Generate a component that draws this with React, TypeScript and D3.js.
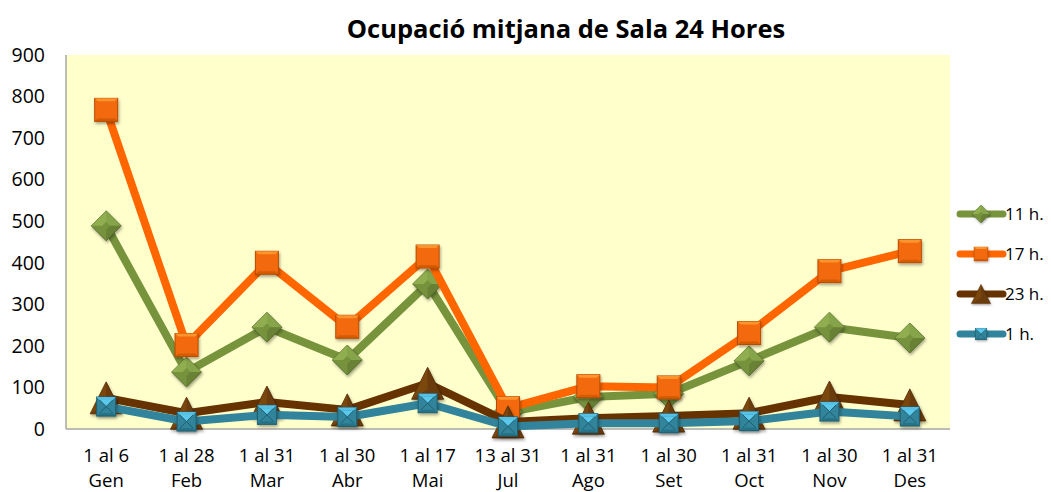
import React from 'react';
import * as d3 from 'd3';

const categories = ['1 al 6|Gen', '1 al 28|Feb', '1 al 31|Mar', '1 al 30|Abr', '1 al 17|Mai', '13 al 31|Jul', '1 al 31|Ago', '1 al 30|Set', '1 al 31|Oct', '1 al 30|Nov', '1 al 31|Des'];
const yTicks = [0, 100, 200, 300, 400, 500, 600, 700, 800, 900];

const values11h = [489, 137, 245, 166, 349, 40, 77, 85, 164, 245, 219];
const values17h = [768, 202, 400, 246, 415, 50, 103, 100, 231, 380, 428];
const values23h = [75, 38, 65, 46, 110, 17, 26, 31, 38, 77, 58];
const values1h = [54, 18, 34, 29, 62, 6, 14, 14, 19, 42, 30];

type Series = { name: string; values: number[]; line: string; fill: string; light: string; dark: string; marker: 'diamond' | 'square' | 'triangle' | 'xsquare' };

const series: Series[] = [
  { name: '11 h.', values: values11h, line: '#77933C', fill: '#76923C', light: '#9BBB59', dark: '#4F6228', marker: 'diamond' },
  { name: '17 h.', values: values17h, line: '#FF6600', fill: '#F26B0C', light: '#FF9933', dark: '#B84C00', marker: 'square' },
  { name: '23 h.', values: values23h, line: '#663300', fill: '#6B3A0B', light: '#8A5217', dark: '#4A2600', marker: 'triangle' },
  { name: '1 h.', values: values1h, line: '#31849B', fill: '#31849B', light: '#5CC8EC', dark: '#1F5F72', marker: 'xsquare' },
];

const W = 1051;
const H = 492;
const plot = { left: 66, right: 950, top: 55, bottom: 429 };
const font = '"Open Sans", "Noto Sans", sans-serif';

function Marker({ s, x, y }: { s: Series; x: number; y: number }) {
  if (s.marker === 'diamond') {
    const r = 15;
    const c = 4;
    return (
      <g transform={`translate(${x},${y})`} filter="url(#shadow)">
        <path d={`M0,${-r}L${r},0L0,${r}L${-r},0Z`} fill={s.fill} stroke={s.dark} strokeWidth={0.8} />
        <path d={`M0,${-r}L${-r},0L${-c},0L0,${-c}Z`} fill={s.light} opacity={0.7} />
        <path d={`M0,${-r}L${r},0L${c},0L0,${-c}Z`} fill={s.light} opacity={0.45} />
        <path d={`M0,${r}L${r},0L${c},0L0,${c}Z`} fill={s.dark} opacity={0.35} />
      </g>
    );
  }
  if (s.marker === 'triangle') {
    const r = 16;
    return (
      <g transform={`translate(${x},${y})`} filter="url(#shadow)">
        <path d={`M0,${-r}L${r},${r}L${-r},${r}Z`} fill={s.fill} stroke={s.dark} strokeWidth={0.8} />
        <path d={`M0,${-r}L${-r},${r}L0,${r * 0.4}Z`} fill={s.light} opacity={0.5} />
      </g>
    );
  }
  const h = s.marker === 'square' ? 11.5 : 9.5;
  const i = 3;
  return (
    <g transform={`translate(${x},${y})`} filter="url(#shadow)">
      <rect x={-h} y={-h} width={2 * h} height={2 * h} fill={s.fill} stroke={s.dark} strokeWidth={1} />
      <path d={`M${-h},${-h}L${h},${-h}L${h - i},${-h + i}L${-h + i},${-h + i}Z`} fill={s.light} opacity={0.9} />
      <path d={`M${-h},${h}L${h},${h}L${h - i},${h - i}L${-h + i},${h - i}Z`} fill={s.dark} opacity={0.5} />
      {s.marker === 'xsquare' && (
        <g>
          <path d={`M${-h + i},${-h + i}L0,0L${h - i},${-h + i}Z`} fill={s.light} />
          <path d={`M${-h + i},${-h + i}L${h - i},${h - i}M${h - i},${-h + i}L${-h + i},${h - i}`} stroke={s.dark} strokeWidth={1} />
        </g>
      )}
    </g>
  );
}

export default function App() {
  const x = d3.scalePoint<string>().domain(categories).range([plot.left, plot.right]).padding(0.5);
  const y = d3.scaleLinear().domain([0, 900]).range([plot.bottom, plot.top]);
  const line = d3.line<number>().x((_, i) => x(categories[i]) as number).y(d => y(d));

  const legendY = [214, 254, 294, 334];

  return (
    <svg width={W} height={H} style={{ position: 'absolute', left: 0, top: 0, background: '#fff' }} fontFamily={font}>
      <defs>
        <filter id="shadow" x="-50%" y="-50%" width="200%" height="200%">
          <feDropShadow dx="1" dy="2" stdDeviation="1.5" floodColor="#000" floodOpacity="0.35" />
        </filter>
      </defs>
      <text x={566} y={38} textAnchor="middle" fontSize={25.5} fontWeight="bold" fill="#000">
        Ocupació mitjana de Sala 24 Hores
      </text>
      <rect x={plot.left} y={plot.top} width={plot.right - plot.left} height={plot.bottom - plot.top} fill="#FFFFCC" />
      <line x1={plot.left} x2={plot.left} y1={plot.top} y2={plot.bottom} stroke="#A6A6A6" strokeWidth={1.5} />
      <line x1={plot.left} x2={plot.right} y1={plot.bottom} y2={plot.bottom} stroke="#A6A6A6" strokeWidth={1.5} />
      {yTicks.map(t => (
        <text key={t} x={45} y={y(t)} dy="0.35em" textAnchor="end" fontSize={19.5} fill="#000">
          {t}
        </text>
      ))}
      {categories.map(c => {
        const [a, b] = c.split('|');
        return (
          <g key={c}>
            <text x={x(c)} y={462} textAnchor="middle" fontSize={18.5} fill="#000">{a}</text>
            <text x={x(c)} y={487} textAnchor="middle" fontSize={18.5} fill="#000">{b}</text>
          </g>
        );
      })}
      {series.map(s => (
        <g key={s.name}>
          <path d={line(s.values) || ''} fill="none" stroke={s.line} strokeWidth={8} strokeLinejoin="round" />
          {s.values.map((v, i) => (
            <Marker key={i} s={s} x={x(categories[i]) as number} y={y(v)} />
          ))}
        </g>
      ))}
      {series.map((s, i) => (
        <g key={s.name}>
          <line x1={960} x2={1003} y1={legendY[i]} y2={legendY[i]} stroke={s.line} strokeWidth={7} strokeLinecap="round" />
          <g transform={`translate(${981},${legendY[i]}) scale(0.6) translate(${-981},${-legendY[i]})`}>
            <Marker s={s} x={981} y={legendY[i]} />
          </g>
          <text x={1005} y={legendY[i]} dy="0.35em" fontSize={17} fill="#000">{s.name}</text>
        </g>
      ))}
    </svg>
  );
}
